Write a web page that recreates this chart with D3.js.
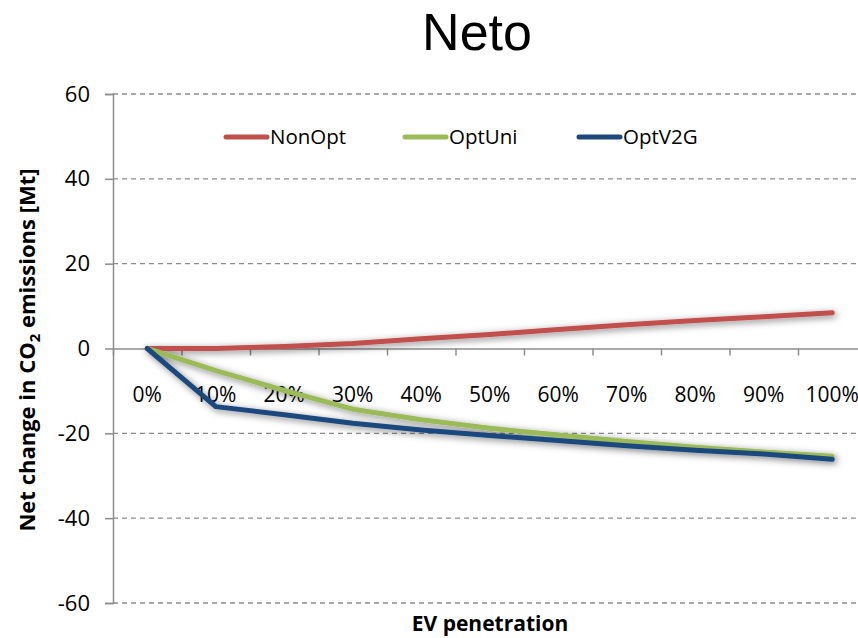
<!DOCTYPE html>
<html>
<head>
<meta charset="utf-8">
<script src="https://cdn.jsdelivr.net/npm/d3@7"></script>
<style>
  html, body { margin: 0; padding: 0; background: #fff; }
  svg { display: block; }
</style>
</head>
<body>
<svg id="chart" width="858" height="638"></svg>
<script>
// chart data
const categories = ["0%", "10%", "20%", "30%", "40%", "50%", "60%", "70%", "80%", "90%", "100%"];
const nonOpt = [0, 0, 0.5, 1.2, 2.3, 3.3, 4.5, 5.6, 6.6, 7.5, 8.4];
const optUni = [0, -5.2, -9.9, -14.3, -16.8, -18.8, -20.4, -21.9, -23.3, -24.4, -25.4];
const optV2G = [0, -13.7, -15.6, -17.6, -19.2, -20.5, -21.7, -22.9, -24.0, -24.9, -26.1];
const seriesNames = ["NonOpt", "OptUni", "OptV2G"];
const seriesColors = ["#C0504D", "#9BBB59", "#1F497D"];
const yTicks = [-60, -40, -20, 0, 20, 40, 60];

const series = [nonOpt, optUni, optV2G].map((values, i) => ({
    name: seriesNames[i],
    color: seriesColors[i],
    values: values
}));

const svg = d3.select("svg#chart");
const font = "'Open Sans', 'Liberation Sans', sans-serif";

const plotLeft = 113, plotTop = 94, plotBottom = 603;
const bandW = 68.5;

const x = d3.scaleBand()
    .domain(categories)
    .range([plotLeft, plotLeft + bandW * categories.length]);
const xc = c => x(c) + x.bandwidth() / 2;

const y = d3.scaleLinear().domain([-60, 60]).range([plotBottom, plotTop]);

const defs = svg.append("defs");
const shadow = defs.append("filter").attr("id", "shadow")
    .attr("x", "-10%").attr("y", "-50%").attr("width", "120%").attr("height", "200%");
shadow.append("feDropShadow")
    .attr("dx", 2).attr("dy", 2).attr("stdDeviation", 3.5)
    .attr("flood-color", "#000").attr("flood-opacity", 0.5);

// dashed gridlines
svg.append("g").attr("class", "grid")
    .selectAll("line")
    .data(yTicks.filter(t => t !== 0))
    .enter().append("line")
    .attr("x1", plotLeft).attr("x2", 858)
    .attr("y1", d => y(d)).attr("y2", d => y(d))
    .attr("stroke", "#8c8c8c")
    .attr("stroke-width", 1.3)
    .attr("stroke-dasharray", "5,4");

// y axis
const yAxis = svg.append("g")
    .attr("transform", `translate(${plotLeft},0)`)
    .call(d3.axisLeft(y).tickValues(yTicks).tickFormat(d => String(d)).tickSize(8).tickPadding(15));
yAxis.select(".domain").attr("stroke", "#8c8c8c").attr("stroke-width", 1.5);
yAxis.selectAll(".tick line").attr("stroke", "#8c8c8c").attr("stroke-width", 1.5);
yAxis.selectAll(".tick text")
    .attr("font-family", font).attr("font-size", 22).attr("fill", "#000");

// x axis at zero, ticks on category boundaries
const xb = d3.scaleLinear().domain([0, categories.length]).range(x.range());
const xAxis = svg.append("g")
    .attr("transform", `translate(0,${y(0)})`)
    .call(d3.axisBottom(xb).ticks(categories.length).tickSize(7).tickFormat("").tickSizeOuter(0));
xAxis.select(".domain").attr("stroke", "#8c8c8c").attr("stroke-width", 1.5);
xAxis.selectAll(".tick line").attr("stroke", "#8c8c8c").attr("stroke-width", 1.5);

// category labels
svg.append("g").selectAll("text")
    .data(categories)
    .enter().append("text")
    .attr("x", d => xc(d))
    .attr("y", 402)
    .attr("text-anchor", "middle")
    .attr("font-family", font).attr("font-size", 21)
    .text(d => d);

// lines
const line = d3.line()
    .x((d, i) => xc(categories[i]))
    .y(d => y(d));

svg.append("g").attr("filter", "url(#shadow)")
    .selectAll("path")
    .data(series)
    .enter().append("path")
    .attr("d", s => line(s.values))
    .attr("fill", "none")
    .attr("stroke", s => s.color)
    .attr("stroke-width", 5)
    .attr("stroke-linejoin", "round")
    .attr("stroke-linecap", "round");

// legend
const legendX = [226, 405, 579];
const legend = svg.append("g").selectAll("g")
    .data(series)
    .enter().append("g")
    .attr("transform", (s, i) => `translate(${legendX[i]},137)`);
legend.append("line")
    .attr("x1", 0).attr("x2", 41)
    .attr("stroke", s => s.color)
    .attr("stroke-width", 5)
    .attr("stroke-linecap", "round");
legend.append("text")
    .attr("x", 44).attr("y", 7)
    .attr("font-family", font).attr("font-size", 20.5)
    .text(s => s.name);

// title
svg.append("text")
    .attr("x", 477).attr("y", 50)
    .attr("text-anchor", "middle")
    .attr("font-family", "'Liberation Sans', Arial, sans-serif")
    .attr("font-size", 52)
    .text("Neto");

// axis titles
const yTitle = svg.append("text")
    .attr("transform", "translate(35,350) rotate(-90)")
    .attr("text-anchor", "middle")
    .attr("font-family", font).attr("font-size", 22).attr("font-weight", "bold");
yTitle.append("tspan").text("Net change in CO");
yTitle.append("tspan").attr("font-size", 15).attr("dy", 5).text("2");
yTitle.append("tspan").attr("dy", -5).text(" emissions [Mt]");

svg.append("text")
    .attr("x", 490).attr("y", 631)
    .attr("text-anchor", "middle")
    .attr("font-family", font).attr("font-size", 21).attr("font-weight", "bold")
    .text("EV penetration");
</script>
</body>
</html>
